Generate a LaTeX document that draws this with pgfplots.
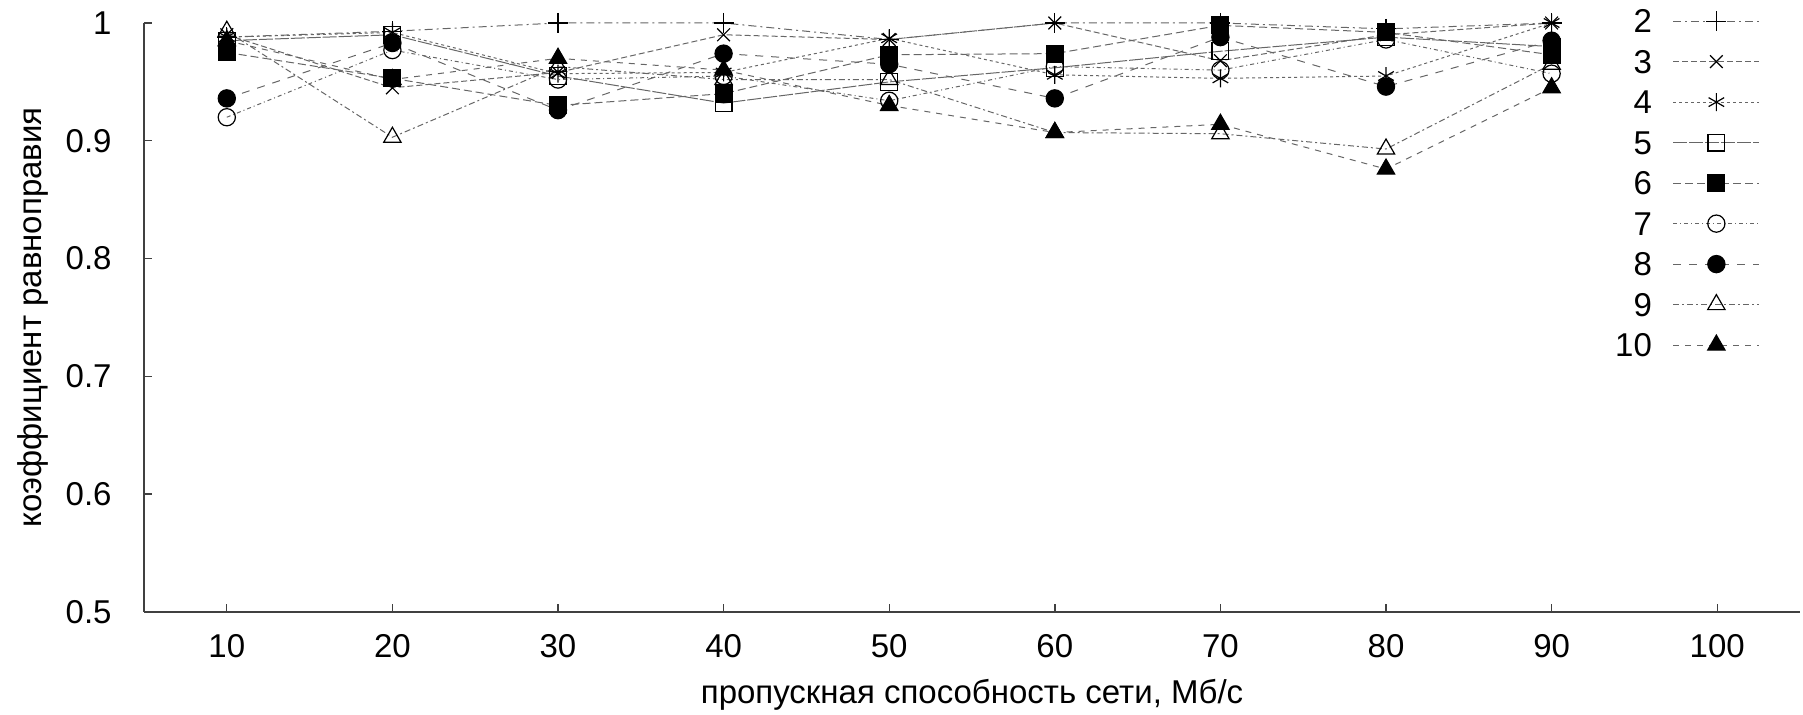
\documentclass[border=0pt]{standalone}
\usepackage{pgfplots}
\pgfplotsset{compat=1.18}
\usepackage{fontspec}
\setmainfont{Liberation Sans}

% fairness coefficient vs. network bandwidth, one series per number of flows
\pgfplotstableread{
x    s2     s3     s4     s5     s6     s7     s8     s9     s10
10   0.988  0.990  0.988  0.985  0.975  0.920  0.936  0.993  0.985
20   0.993  0.945  0.992  0.990  0.953  0.977  0.983  0.903  0.952
30   1.000  0.958  0.957  0.955  0.930  0.952  0.926  0.963  0.970
40   1.000  0.990  0.958  0.932  0.940  0.955  0.974  0.952  0.960
50   0.986  0.986  0.987  0.950  0.973  0.934  0.965  0.952  0.930
60   1.000  1.000  0.956  0.962  0.974  0.963  0.936  0.907  0.907
70   1.000  0.968  0.953  0.976  0.998  0.960  0.988  0.906  0.914
80   0.995  0.990  0.955  0.988  0.992  0.986  0.946  0.893  0.876
90   1.000  1.000  1.000  0.980  0.973  0.957  0.985  0.965  0.945
}\fairness

\pgfplotsset{
  series/.style={color=black!60, line width=0.5pt,
    mark options={black, solid, line width=0.6pt}},
}

\begin{document}
\fontsize{16.5}{19}\selectfont
\begin{tikzpicture}
\begin{axis}[
  at={(0,0)}, anchor=south west,
  scale only axis, width=828pt, height=294.5pt,
  xmin=5, xmax=105, ymin=0.5, ymax=1,
  axis x line*=bottom, axis y line*=left,
  axis line style={black!75, line width=1pt},
  tick align=inside, major tick length=4pt,
  tick style={black!75, line width=0.7pt},
  xtick={10,20,30,40,50,60,70,80,90,100},
  ytick={0.5,0.6,0.7,0.8,0.9,1},
  /pgf/number format/assume math mode=true,
  xticklabel style={inner sep=0pt, anchor=north, yshift=-11pt},
  yticklabel style={inner sep=0pt, anchor=east, xshift=-16pt},
  xlabel={пропускная способность сети, Мб/с},
  ylabel={коэффициент равноправия},
  xlabel style={at={(rel axis cs:0.5,-0.156)}, anchor=base, inner sep=0pt},
  ylabel style={at={(rel axis cs:-0.0622,0.5)}, anchor=base, inner sep=0pt},
  clip=false,
  legend cell align=right, legend plot pos=right,
  legend style={at={(rel axis cs:0.976,1.024)}, anchor=north east,
    draw=none, fill=none, inner sep=0pt, row sep=8.4pt, column sep=10.5pt,
    nodes={inner sep=0pt, text height=11.85pt, text depth=0pt}},
  legend image code/.code={
    \draw[mark repeat=2, mark phase=2, #1]
      plot coordinates {(0pt,0pt) (21.5pt,0pt) (43pt,0pt)};},
]
\addplot[series, dash pattern=on 4pt off 2pt on 1pt off 2pt,
  mark=+, mark size=5pt] table[x=x, y=s2] {\fairness};
\addlegendentry{2}
\addplot[series, dash pattern=on 3pt off 1.5pt,
  mark=x, mark size=4.5pt] table[x=x, y=s3] {\fairness};
\addlegendentry{3}
\addplot[series, dash pattern=on 1.5pt off 1.5pt,
  mark=asterisk, mark size=4.5pt] table[x=x, y=s4] {\fairness};
\addlegendentry{4}
\addplot[series, dash pattern=on 7pt off 1pt,
  mark=square, mark size=4.2pt] table[x=x, y=s5] {\fairness};
\addlegendentry{5}
\addplot[series, dash pattern=on 4pt off 2pt,
  mark=square*, mark size=4.2pt] table[x=x, y=s6] {\fairness};
\addlegendentry{6}
\addplot[series, dash pattern=on 2pt off 1.5pt on 0.5pt off 1.5pt,
  mark=o, mark size=4.3pt] table[x=x, y=s7] {\fairness};
\addlegendentry{7}
\addplot[series, dash pattern=on 4pt off 4pt,
  mark=*, mark size=4.3pt] table[x=x, y=s8] {\fairness};
\addlegendentry{8}
\addplot[series, dash pattern=on 3pt off 1.5pt on 1pt off 1.5pt,
  mark=triangle, mark size=5pt] table[x=x, y=s9] {\fairness};
\addlegendentry{9}
\addplot[series, dash pattern=on 3pt off 3pt,
  mark=triangle*, mark size=5pt] table[x=x, y=s10] {\fairness};
\addlegendentry{10}
\end{axis}
\pgfresetboundingbox
\path[use as bounding box] (-72pt,-51.5pt) rectangle (829.5pt,306pt);
\end{tikzpicture}
\end{document}
